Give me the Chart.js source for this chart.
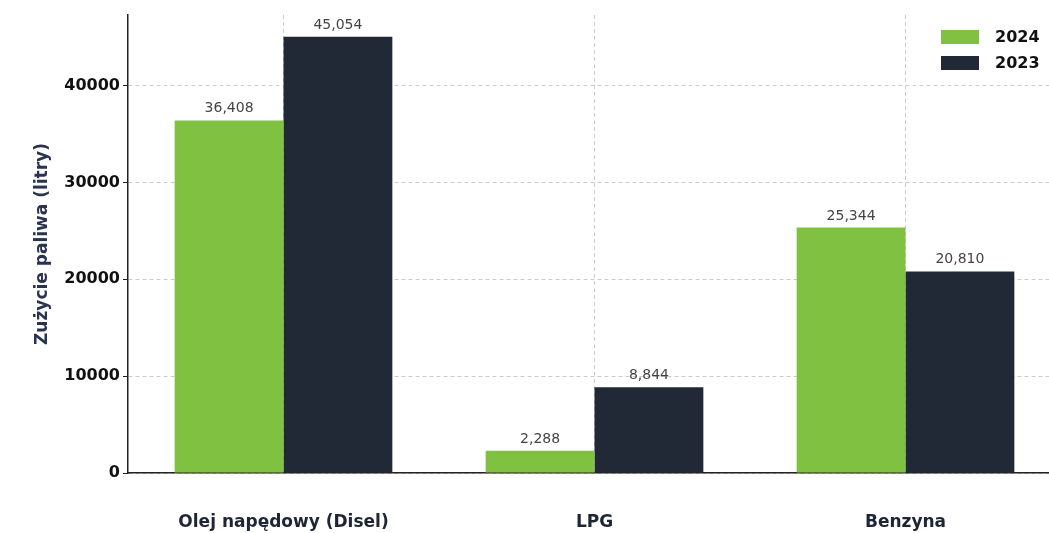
<!DOCTYPE html>
<html>
<head>
<meta charset="utf-8">
<script src="https://cdn.jsdelivr.net/npm/chart.js@4"></script>
<style>
  html, body { margin: 0; padding: 0; background: #fff; overflow: hidden; }
  #wrap { width: 1061px; height: 533px; }
</style>
</head>
<body>
<div id="wrap"><canvas id="fuelChart"></canvas></div>
<script>
var categories = ['Olej napędowy (Disel)', 'LPG', 'Benzyna'];
var values2024 = [36408, 2288, 25344];
var values2023 = [45054, 8844, 20810];
var yTicks = [0, 10000, 20000, 30000, 40000];

var greenColor = '#80c141';
var darkColor = '#212836';
var labelFont = '"DejaVu Sans", sans-serif';

// numbers above the bars
var valueLabels = {
  id: 'valueLabels',
  afterDraw: function(chart) {
    var ctx = chart.ctx;
    ctx.save();
    ctx.font = '14px "DejaVu Sans"';
    ctx.fillStyle = '#444444';
    ctx.textAlign = 'center';
    ctx.textBaseline = 'alphabetic';
    chart.data.datasets.forEach(function(ds, i) {
      chart.getDatasetMeta(i).data.forEach(function(bar, j) {
        ctx.fillText(ds.data[j].toLocaleString('en-US'), bar.x, bar.y - 8);
      });
    });
    ctx.restore();
  }
};

// legend in the top right corner, drawn inside the plot
var cornerLegend = {
  id: 'cornerLegend',
  afterDraw: function(chart) {
    var ctx = chart.ctx;
    ctx.save();
    ctx.font = 'bold 16px ' + labelFont;
    ctx.textBaseline = 'middle';
    ctx.textAlign = 'left';
    chart.data.datasets.forEach(function(ds, i) {
      var y = 37 + i * 26;
      ctx.fillStyle = ds.backgroundColor;
      ctx.fillRect(941, y - 7, 38, 14);
      ctx.fillStyle = '#111111';
      ctx.fillText(ds.label, 995, y + 1);
    });
    ctx.restore();
  }
};

new Chart(document.getElementById('fuelChart'), {
  type: 'bar',
  data: {
    labels: categories,
    datasets: [
      { label: '2024', data: values2024, backgroundColor: greenColor },
      { label: '2023', data: values2023, backgroundColor: darkColor }
    ]
  },
  options: {
    responsive: true,
    maintainAspectRatio: false,
    animation: false,
    layout: { padding: { top: 15, right: 0, bottom: 0, left: 0 } },
    datasets: { bar: { categoryPercentage: 0.7, barPercentage: 1.0 } },
    plugins: {
      legend: { display: false },
      tooltip: { enabled: false }
    },
    scales: {
      x: {
        z: 1,
        grid: { offset: false, color: '#cccccc', drawTicks: false },
        border: { color: '#222222', width: 1.5, dash: [4, 3] },
        ticks: {
          padding: 39,
          color: '#1e2535',
          font: { family: labelFont, size: 17, weight: 'bold' }
        },
        afterFit: function(scale) { scale.height = 60; }
      },
      y: {
        z: 1,
        min: 0,
        max: 47300,
        afterBuildTicks: function(scale) {
          scale.ticks = yTicks.map(function(v) { return { value: v }; });
        },
        grid: { color: '#cccccc', tickColor: '#222222', tickLength: 5 },
        border: { color: '#222222', width: 1.5, dash: [4, 3] },
        ticks: {
          padding: 3,
          color: '#111111',
          font: { family: labelFont, size: 16, weight: 'bold' },
          callback: function(v) { return String(v); }
        },
        title: {
          display: true,
          text: 'Zużycie paliwa (litry)',
          color: '#2a3350',
          padding: { top: 32, bottom: 0 },
          font: { family: labelFont, size: 17, weight: 'bold' }
        },
        afterFit: function(scale) { scale.width = 128; }
      }
    }
  },
  plugins: [valueLabels, cornerLegend]
});
</script>
</body>
</html>
